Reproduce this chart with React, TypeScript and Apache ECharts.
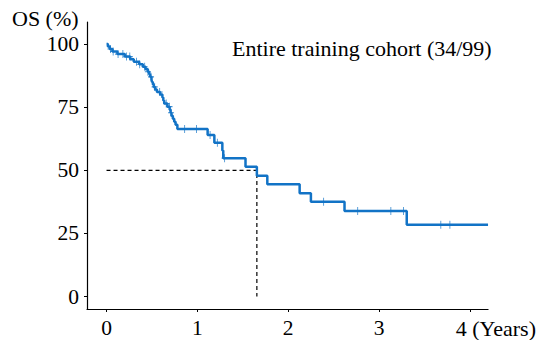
import React, { useEffect, useRef } from "react";
import * as echarts from "echarts";

// Kaplan–Meier step points: time (years) at which survival drops, and survival (%) after the drop
const eventTimes = [
  0, 0.015, 0.035, 0.065, 0.12, 0.2, 0.26, 0.3, 0.36, 0.4, 0.43, 0.455, 0.47, 0.48, 0.495,
  0.5, 0.51, 0.52, 0.535, 0.555, 0.59, 0.615, 0.625, 0.635, 0.67, 0.695, 0.705, 0.715,
  0.73, 0.745, 0.76, 0.78, 1.113, 1.187, 1.275, 1.285, 1.53, 1.655, 1.77, 2.126, 2.25,
  2.62, 3.305, 4.2,
];
const survival = [
  100, 99, 98, 97, 96, 95, 94, 93, 92, 91, 90, 89, 88, 87, 86,
  85, 84, 83, 82, 81, 80, 78.8, 77.6, 76.4, 75.2, 74, 72.8, 71.6,
  70.4, 69.2, 68, 66.3, 64, 60.9, 57.8, 54.8, 51.4, 47.8, 44.5, 40.9, 37.6,
  33.9, 28.4, 28.4,
];
// Censored observations (years)
const censorTimes = [
  0.044, 0.073, 0.127, 0.18, 0.22, 0.256, 0.33, 0.365, 0.42, 0.455, 0.49, 0.53, 0.585,
  0.657, 0.693, 0.71, 0.86, 0.99, 1.14, 1.22, 1.3, 2.39, 2.765, 3.13, 3.27, 3.68, 3.78,
];
const medianSurvival = 1.655;
const xTicks = [0, 1, 2, 3, 4];
const yTicks = [0, 25, 50, 75, 100];
const cohortLabel = "Entire training cohort (34/99)";

const FONT = "'Liberation Serif', 'Times New Roman', serif";
const BLUE = "#1273c6";

function survivalAt(t: number): number {
  let s = survival[0];
  for (let i = 0; i < eventTimes.length; i++) {
    if (eventTimes[i] <= t) s = survival[i];
  }
  return s;
}

export default function App() {
  const ref = useRef<HTMLDivElement>(null);

  useEffect(() => {
    if (!ref.current) return;
    const chart = echarts.init(ref.current, null, { renderer: "svg" });
    const curve = eventTimes.map((t, i) => [t, survival[i]]);
    const censors = censorTimes.map((t) => [t, survivalAt(t)]);
    const medianGuide = [
      [0, 50],
      [medianSurvival, 50],
      [medianSurvival, 0],
    ];

    chart.setOption({
      animation: false,
      title: [
        {
          text: cohortLabel,
          left: 227,
          top: 32,
          textStyle: { fontFamily: FONT, fontSize: 22, fontWeight: "normal", color: "#000" },
        },
        {
          text: "OS (%)",
          left: 7,
          top: 2,
          textStyle: { fontFamily: FONT, fontSize: 22, fontWeight: "normal", color: "#000" },
        },
      ],
      grid: { left: 87, right: 49, top: 22, bottom: 31 },
      xAxis: {
        type: "value",
        min: -0.215,
        max: 4.2,
        splitLine: { show: false },
        axisLine: { show: true, onZero: false, lineStyle: { color: "#000", width: 1.2 } },
        axisTick: { show: true, customValues: xTicks, length: 3, lineStyle: { color: "#000" } },
        axisLabel: {
          customValues: xTicks,
          margin: 8,
          fontFamily: FONT,
          fontSize: 21.5,
          color: "#000",
          formatter: (v: number) => (v === 4 ? "{y|4 (Years)}" : String(v)),
          rich: {
            y: { fontFamily: FONT, fontSize: 22, color: "#000", padding: [0, 0, 0, 52] },
          },
        },
      },
      yAxis: {
        type: "value",
        min: -4.9,
        max: 108.7,
        splitLine: { show: false },
        axisLine: { show: true, onZero: false, lineStyle: { color: "#000", width: 1.2 } },
        axisTick: { show: true, customValues: yTicks, length: 3, lineStyle: { color: "#000" } },
        axisLabel: {
          customValues: yTicks,
          margin: 8,
          fontFamily: FONT,
          fontSize: 21.5,
          color: "#000",
        },
      },
      series: [
        {
          type: "line",
          data: medianGuide,
          symbol: "none",
          lineStyle: { color: "#000", width: 1.2, type: [4, 3] },
          silent: true,
        },
        {
          type: "line",
          data: curve,
          step: "end",
          symbol: "none",
          lineStyle: { color: BLUE, width: 2.5 },
          silent: true,
        },
        {
          type: "scatter",
          data: censors,
          symbol:
            "path://M-0.14,-1H0.14V-0.14H1V0.14H0.14V1H-0.14V0.14H-1V-0.14H-0.14Z",
          symbolSize: [6, 8],
          itemStyle: { color: BLUE },
          silent: true,
        },
      ],
    });
    return () => chart.dispose();
  }, []);

  return (
    <div
      ref={ref}
      style={{ position: "fixed", left: 0, top: 0, width: 539, height: 340, background: "#fff" }}
    />
  );
}
